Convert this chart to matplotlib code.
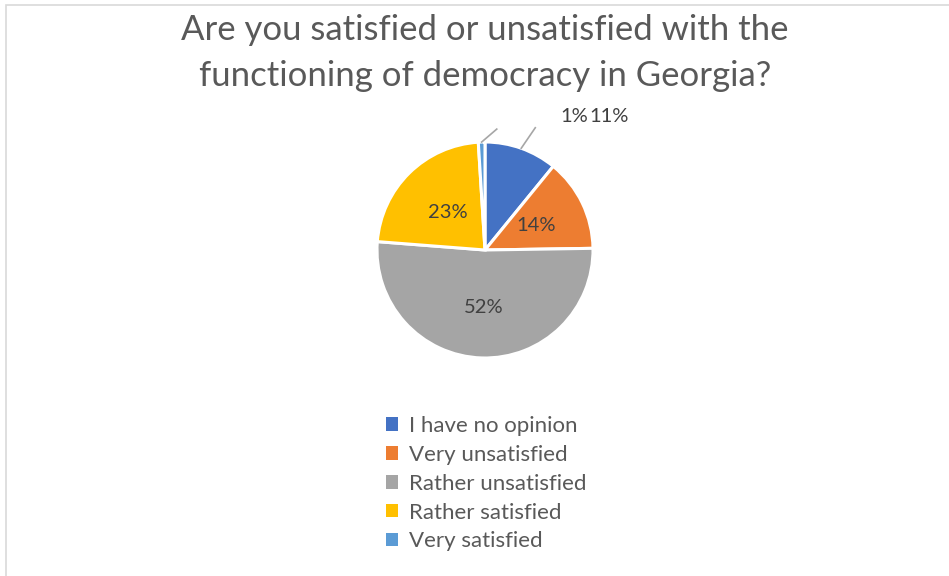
import numpy as np
import matplotlib
matplotlib.use("Agg")
import matplotlib.pyplot as plt
from matplotlib.patches import Rectangle

# Survey responses
categories = ["I have no opinion", "Very unsatisfied", "Rather unsatisfied",
              "Rather satisfied", "Very satisfied"]
shares = [11, 14, 52, 23, 1]
pct_labels = ["11%", "14%", "52%", "23%", "1%"]
colors = ["#4472C4", "#ED7D31", "#A5A5A5", "#FFC000", "#5B9BD5"]
title = "Are you satisfied or unsatisfied with the\nfunctioning of democracy in Georgia?"

FONT = "Lato"
W, H = 949, 576
CX, CY, R = 485, 250, 108  # pie centre and radius in pixels

fig = plt.figure(figsize=(W / 100, H / 100), dpi=100)
ax = fig.add_axes([0, 0, 1, 1])

# chart frame
fig.patches.append(Rectangle((5.5 / W, -0.01), 1.02, 1 - 4.5 / H + 0.01,
                             transform=fig.transFigure, fill=False,
                             edgecolor="#D9D9D9", linewidth=1.2))

wedges, _ = ax.pie(shares, colors=colors, startangle=90, counterclock=False,
                   radius=1.0, center=(0, 0),
                   wedgeprops=dict(edgecolor="white", linewidth=2.2))
ax.set_xlim(-CX / R, (W - CX) / R)
ax.set_ylim(-(H - CY) / R, CY / R)
ax.set_aspect("auto")
ax.axis("off")

# inside labels
inside = {1: 0.53, 2: 0.53, 3: 0.49}
for i, r in inside.items():
    w = wedges[i]
    ang = np.deg2rad((w.theta1 + w.theta2) / 2)
    ax.text(r * np.cos(ang), r * np.sin(ang), pct_labels[i], ha="center",
            va="center", fontsize=14.5, color="#404040", family=FONT)

# outside labels with leader lines
outside = {4: ((0.14, 0.12), (0.83, 1.24)), 0: ((0.13, 0.19), (1.145, 1.24))}
for i, (off, pos) in outside.items():
    w = wedges[i]
    ang = np.deg2rad((w.theta1 + w.theta2) / 2)
    x0, y0 = 1.0 * np.cos(ang), 1.0 * np.sin(ang)
    ax.plot([x0, x0 + off[0]], [y0, y0 + off[1]], color="#A6A6A6", lw=1.2)
    ax.text(pos[0], pos[1], pct_labels[i], ha="center", va="center",
            fontsize=14.5, color="#404040", family=FONT)

fig.text(CX / W, 1 - 53 / H, title, ha="center", va="center", fontsize=25,
         color="#595959", family=FONT, linespacing=1.5)

leg = ax.legend(wedges, categories, loc="upper left",
                bbox_to_anchor=(377 / W, 1 - 407 / H), frameon=False,
                prop=dict(family=FONT, size=16), labelcolor="#595959",
                handlelength=0.55, handleheight=0.55, handletextpad=0.5,
                labelspacing=0.4, borderaxespad=0)
for h in leg.legend_handles:
    h.set_edgecolor("none")

fig.savefig("out.png", dpi=100)
